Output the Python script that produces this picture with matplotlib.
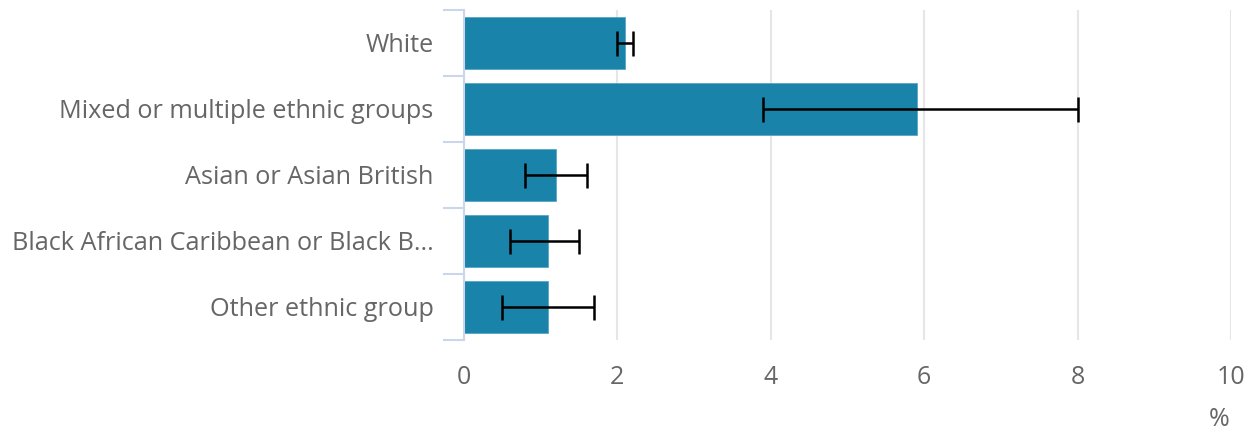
import matplotlib.pyplot as plt
import numpy as np

categories = ["White", "Mixed or multiple ethnic groups", "Asian or Asian British",
              "Black African Caribbean or Black B...", "Other ethnic group"]
values = [2.1, 5.9, 1.2, 1.1, 1.1]
lower = [2.0, 3.9, 0.8, 0.6, 0.5]
upper = [2.2, 8.0, 1.6, 1.5, 1.7]
xticks = [0, 2, 4, 6, 8, 10]

plt.rcParams['font.family'] = ['Open Sans', 'DejaVu Sans']

fig = plt.figure(figsize=(12.55, 4.34), dpi=100)
ax = fig.add_axes([464/1255, 1-340/434, (1231-464)/1255, 330/434])

y = np.arange(len(categories))
vals = np.array(values)
err = [vals - np.array(lower), np.array(upper) - vals]

ax.barh(y, vals, height=0.78, color='#1a83aa', edgecolor='#4d9fc2', linewidth=0.5, zorder=2)
ax.errorbar(vals, y, xerr=err, fmt='none', ecolor='black', elinewidth=1.8,
            capsize=9, capthick=1.8, zorder=3)

ax.set_xlim(0, 10)
ax.set_ylim(len(categories) - 0.5, -0.5)
ax.set_xticks(xticks)
ax.set_xticklabels([str(t) for t in xticks])
ax.set_yticks(y)
ax.set_yticklabels(categories)
ax.set_yticks(np.arange(len(categories) + 1) - 0.5, minor=True)

ax.grid(axis='x', color='#e6e6e6', linewidth=1.5, zorder=0)
ax.set_axisbelow(True)

for s in ['top', 'right', 'bottom']:
    ax.spines[s].set_visible(False)
ax.spines['left'].set_color('#ccd6eb')
ax.spines['left'].set_linewidth(1.5)

ax.tick_params(axis='y', which='major', length=0, pad=22, labelsize=18.2, labelcolor='#666666')
ax.tick_params(axis='y', which='minor', length=15, width=1.5, color='#ccd6eb')
ax.tick_params(axis='x', which='major', length=0, pad=18, labelsize=18, labelcolor='#666666')

fig.text(1219/1255, 1-420/434, '%', ha='center', va='center', fontsize=18, color='#666666')

fig.savefig('out.png', dpi=100)
